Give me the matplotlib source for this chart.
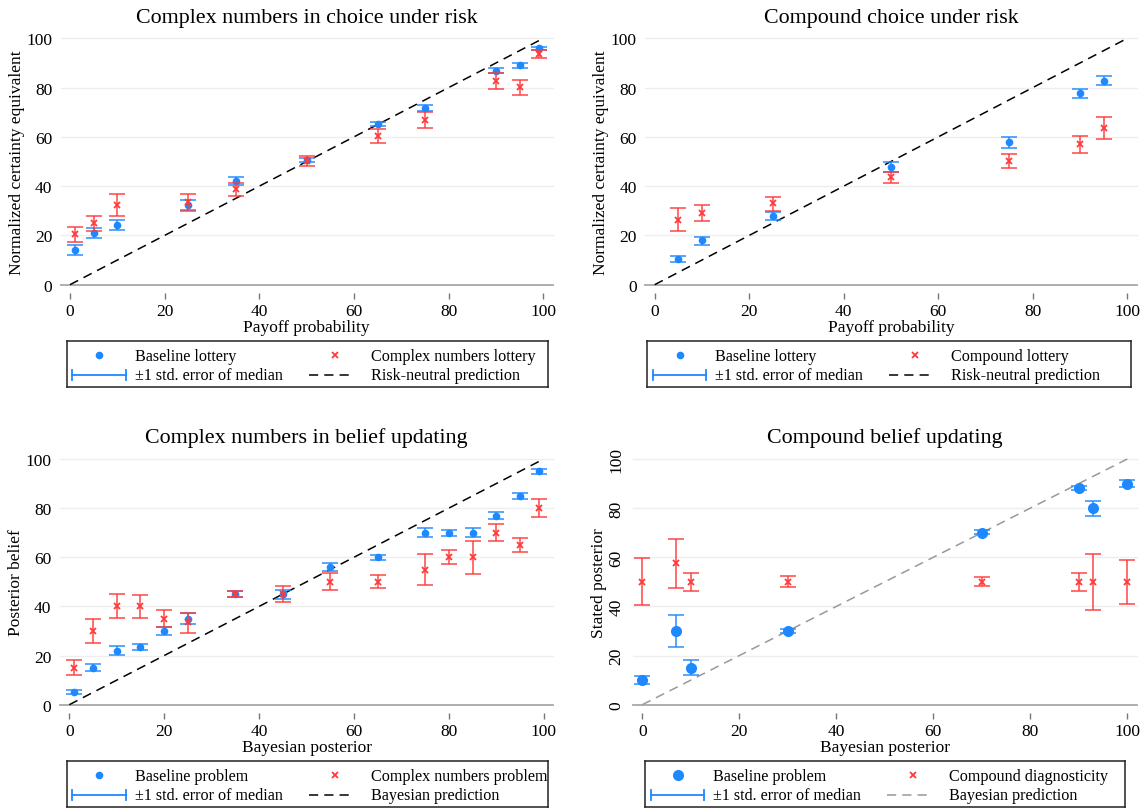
import matplotlib
matplotlib.use('Agg')
import matplotlib.pyplot as plt

plt.rcParams['font.family'] = ['Liberation Serif', 'DejaVu Serif']

W, H = 1143, 812

# ---------------- data ----------------
# Panel 1: Complex numbers in choice under risk
p1_x = [1, 5, 10, 25, 35, 50, 65, 75, 90, 95, 99]
p1_base = [14.1, 21.1, 24.2, 32.3, 42.2, 50.6, 65.4, 71.7, 86.9, 89.2, 96.1]
p1_base_hi = [16.1, 23.1, 26.3, 34.5, 43.8, 51.3, 66.2, 72.8, 87.8, 90.1, 96.6]
p1_base_lo = [11.9, 19.1, 22.1, 29.9, 40.5, 49.8, 64.3, 70.4, 86.1, 88.0, 95.3]
p1_cplx = [20.4, 24.9, 32.3, 33.7, 38.7, 50.2, 60.2, 67.0, 82.5, 80.4, 93.6]
p1_cplx_hi = [23.5, 28.0, 36.7, 36.9, 41.4, 52.1, 63.2, 70.1, 85.9, 83.2, 95.3]
p1_cplx_lo = [17.2, 21.7, 28.0, 30.3, 36.1, 48.3, 57.4, 63.6, 79.4, 77.1, 91.9]

# Panel 2: Compound choice under risk
p2_x = [5, 10, 25, 50, 75, 90, 95]
p2_base = [10.4, 18.0, 27.7, 47.9, 57.8, 77.8, 82.8]
p2_base_hi = [11.8, 19.5, 29.6, 49.7, 59.8, 79.6, 84.7]
p2_base_lo = [9.1, 16.2, 26.1, 45.9, 55.6, 75.8, 80.9]
p2_comp = [26.4, 29.2, 33.0, 43.6, 50.3, 57.0, 63.7]
p2_comp_hi = [31.0, 32.3, 35.7, 45.9, 53.0, 60.4, 68.1]
p2_comp_lo = [21.8, 25.8, 29.9, 41.3, 47.5, 53.5, 59.0]

# Panel 3: Complex numbers in belief updating
p3_x = [1, 5, 10, 15, 20, 25, 35, 45, 55, 65, 75, 80, 85, 90, 95, 99]
p3_base = [5, 15, 22, 23.5, 30, 35, 45, 45, 56, 60, 70, 70, 70, 77, 85, 95]
p3_base_hi = [5.8, 16.4, 23.7, 24.8, 31.5, 37.3, 46.3, 46.7, 57.7, 60.9, 71.8, 71.2, 71.9, 78.4, 86.2, 96.1]
p3_base_lo = [4.2, 13.7, 20.2, 22.3, 28.5, 32.7, 43.8, 43.1, 54.3, 59.0, 68.4, 68.8, 68.1, 75.6, 83.7, 93.9]
p3_cplx = [15, 30, 40, 40, 35, 33.5, 45, 45, 50, 50, 55, 60, 60, 70, 65, 80]
p3_cplx_hi = [18.3, 35.0, 44.9, 44.8, 38.5, 37.2, 46.4, 48.2, 53.5, 52.8, 61.5, 62.8, 66.8, 73.7, 67.8, 83.7]
p3_cplx_lo = [11.9, 25.1, 35.1, 35.3, 31.6, 29.0, 43.7, 41.9, 46.5, 47.5, 48.6, 57.3, 53.3, 66.5, 62.1, 76.4]

# Panel 4: Compound belief updating
p4_x = [0, 7, 10, 30, 70, 90, 93, 100]
p4_base = [10, 30, 15, 30, 70, 88, 80, 90]
p4_base_hi = [11.7, 36.5, 18.0, 30.8, 71.0, 88.9, 83.0, 91.3]
p4_base_lo = [8.5, 23.6, 11.9, 29.3, 69.3, 87.2, 76.9, 88.6]
p4_comp = [50, 57.7, 50, 50, 50, 50, 50, 50]
p4_comp_hi = [59.7, 67.6, 53.7, 52.5, 51.8, 53.7, 61.3, 59.0]
p4_comp_lo = [40.6, 47.5, 46.3, 47.8, 48.2, 46.3, 38.7, 41.1]

ticks = [0, 20, 40, 60, 80, 100]

BLUE = '#1E88FF'
RED = '#FF3A3A'

fig = plt.figure(figsize=(W / 100, H / 100), dpi=100)


def add_ax(left, top, right, bottom):
    return fig.add_axes([left / W, 1 - bottom / H, (right - left) / W, (bottom - top) / H])


def draw_panel(ax, title, xlabel, ylabel, x, b, bhi, blo, r, rhi, rlo,
               line_color, big=False, rot_y=False):
    ax.set_xlim(-2, 102)
    ax.set_ylim(0, 100)
    for s in ['top', 'right', 'left']:
        ax.spines[s].set_visible(False)
    ax.spines['bottom'].set_position(('outward', 6))
    ax.spines['bottom'].set_visible(False)
    for t in ticks[1:]:
        ax.axhline(t, color='#EEEEEE', lw=1, zorder=0, clip_on=False)
    ax.axhline(0, color='#A8A8A8', lw=1.3, zorder=1, clip_on=False)
    ax.set_xticks(ticks)
    ax.set_yticks(ticks)
    ax.tick_params(axis='x', length=4.5, width=1, color='#777777', pad=2.5, labelsize=12.5)
    ax.tick_params(axis='y', length=0, pad=6, labelsize=12.5)
    if rot_y:
        for lab in ax.get_yticklabels():
            lab.set_rotation(90)
            lab.set_va('center')
    # diagonal prediction
    ax.plot([0, 100], [0, 100], color=line_color, lw=1.1, dashes=(6, 4), zorder=2, clip_on=False)
    cap = 5.5 if not big else 6
    bms = 5.5 if not big else 8
    ax.errorbar(x, b, yerr=[[bb - l for bb, l in zip(b, blo)], [h - bb for bb, h in zip(b, bhi)]],
                fmt='none', ecolor=BLUE, elinewidth=1.3, capsize=cap, capthick=1.3, alpha=0.8, zorder=3)
    ax.plot(x, b, 'o', color=BLUE, ms=bms, mec='none', zorder=4)
    ax.errorbar(x, r, yerr=[[rr - l for rr, l in zip(r, rlo)], [h - rr for rr, h in zip(r, rhi)]],
                fmt='none', ecolor=RED, elinewidth=1.3, capsize=cap, capthick=1.3, alpha=0.8, zorder=5)
    ax.plot(x, r, 'x', color=RED, ms=4, mew=1.3, zorder=6)
    ax.set_title(title, fontsize=15.8, pad=12)
    ax.set_xlabel(xlabel, fontsize=12.5, labelpad=0)
    ax.set_ylabel(ylabel, fontsize=12.5, labelpad=(1 if rot_y else 1))


def draw_legend(left, top, right, bottom, labels, bsize, lcol):
    lax = add_ax(left, top, right, bottom)
    w = right - left
    h = bottom - top
    lax.set_xlim(0, w)
    lax.set_ylim(h, 0)
    lax.set_xticks([])
    lax.set_yticks([])
    for s in lax.spines.values():
        s.set_linewidth(1.1)
        s.set_color('#222222')
    r1, r2 = h * 0.33, h * 0.74
    fs = 11.6
    lax.plot([32.6], [r1 - 1], 'o', color=BLUE, ms=bsize, mec='none')
    lax.text(68.3, r1, labels[0], fontsize=fs, va='center')
    lax.plot([268], [r1 - 1], 'x', color=RED, ms=4, mew=1.3)
    lax.text(304, r1, labels[1], fontsize=fs, va='center')
    lax.plot([5.6, 59], [r2, r2], color=BLUE, lw=1.3)
    lax.plot([5.6, 5.6], [r2 - 5, r2 + 5], color=BLUE, lw=1.3)
    lax.plot([59, 59], [r2 - 5, r2 + 5], color=BLUE, lw=1.3)
    lax.text(68.3, r2, '\u00b11 std. error of median', fontsize=fs, va='center')
    lax.plot([242, 287], [r2, r2], color=lcol, lw=1.1, dashes=(6, 4))
    lax.text(304, r2, labels[2], fontsize=fs, va='center')


ax1 = add_ax(60.5, 39.3, 552.8, 285.7)
draw_panel(ax1, 'Complex numbers in choice under risk', 'Payoff probability',
           'Normalized certainty equivalent', p1_x, p1_base, p1_base_hi, p1_base_lo,
           p1_cplx, p1_cplx_hi, p1_cplx_lo, 'black')
ax2 = add_ax(645.2, 39.3, 1136.8, 285.7)
draw_panel(ax2, 'Compound choice under risk', 'Payoff probability',
           'Normalized certainty equivalent', p2_x, p2_base, p2_base_hi, p2_base_lo,
           p2_comp, p2_comp_hi, p2_comp_lo, 'black')
ax3 = add_ax(59.8, 460, 553.2, 705.7)
draw_panel(ax3, 'Complex numbers in belief updating', 'Bayesian posterior',
           'Posterior belief', p3_x, p3_base, p3_base_hi, p3_base_lo,
           p3_cplx, p3_cplx_hi, p3_cplx_lo, 'black')
ax4 = add_ax(632.6, 460, 1137, 705.7)
draw_panel(ax4, 'Compound belief updating', 'Bayesian posterior',
           'Stated posterior', p4_x, p4_base, p4_base_hi, p4_base_lo,
           p4_comp, p4_comp_hi, p4_comp_lo, '#999999', big=True, rot_y=True)

draw_legend(66.7, 341.7, 548, 388, ['Baseline lottery', 'Complex numbers lottery', 'Risk-neutral prediction'], 5.5, 'black')
draw_legend(647, 341.7, 1131, 388, ['Baseline lottery', 'Compound lottery', 'Risk-neutral prediction'], 5.5, 'black')
draw_legend(66.7, 762, 548, 808, ['Baseline problem', 'Complex numbers problem', 'Bayesian prediction'], 5.5, 'black')
draw_legend(645, 762, 1125, 808, ['Baseline problem', 'Compound diagnosticity', 'Bayesian prediction'], 8, '#999999')

fig.savefig('out.png', dpi=100, facecolor='white')
